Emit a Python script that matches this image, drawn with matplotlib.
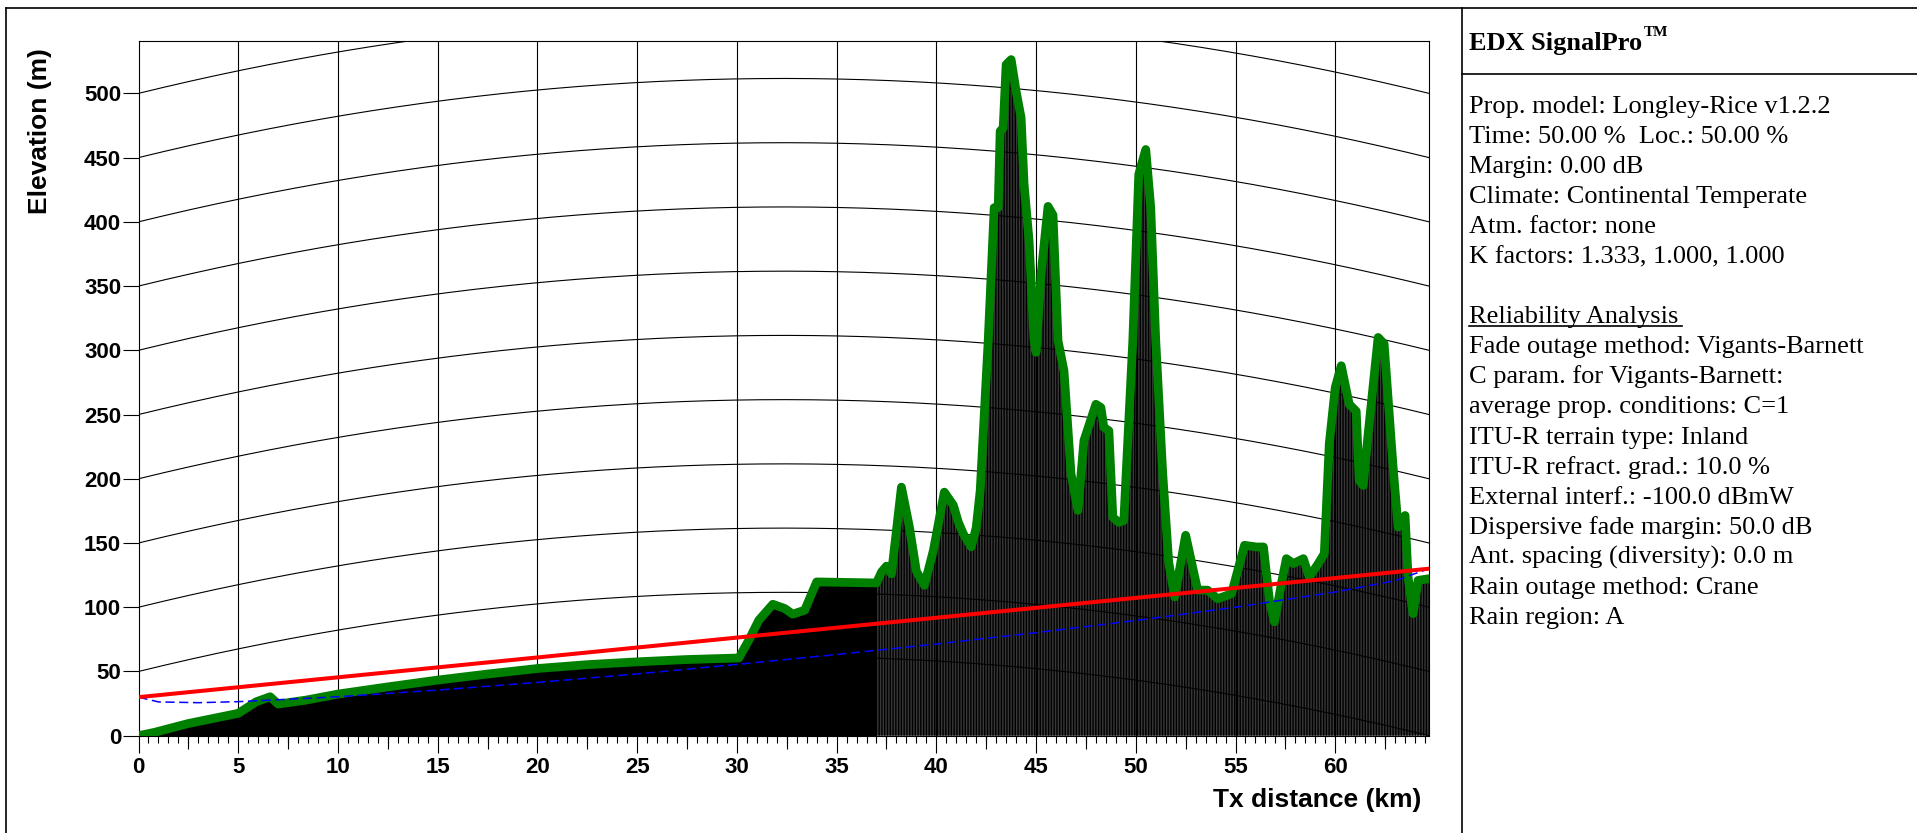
import numpy as np
import matplotlib.pyplot as plt
from matplotlib.lines import Line2D

# terrain profile (km, m)
dist_km = [0, 0.8, 2.5, 5.0, 5.9, 6.6, 7.0, 8.4, 10, 12.5,
           15, 17.5, 20, 22.5, 25, 27.5, 30.1, 30.6, 31.1, 31.8,
           32.4, 32.8, 33.4, 34.0, 37.0, 37.25, 37.5, 37.75, 38.25, 38.65,
           39.0, 39.4, 39.85, 40.4, 40.85, 41.1, 41.35, 41.75, 42.0, 42.2,
           42.6, 42.9, 43.1, 43.2, 43.35, 43.5, 43.75, 44.0, 44.25, 44.4,
           44.65, 44.9, 45.0, 45.25, 45.6, 45.85, 46.1, 46.4, 46.75, 47.1,
           47.4, 48.0, 48.25, 48.4, 48.65, 48.85, 49.15, 49.4, 49.85, 50.15,
           50.5, 50.75, 51.0, 51.35, 51.65, 51.95, 52.5, 53.1, 53.6, 54.1,
           54.8, 55.45, 56.05, 56.4, 56.7, 56.95, 57.3, 57.55, 57.9, 58.4,
           58.7, 59.15, 59.45, 59.7, 60.0, 60.3, 60.7, 61.05, 61.2, 61.4,
           61.65, 62.15, 62.45, 62.9, 63.15, 63.5, 63.65, 63.9, 64.15, 64.7]
elev_m = [0, 2.6, 9.5, 17.4, 26.4, 30.3, 24.6, 27.7, 32.4, 38,
          43.3, 48, 52.3, 55.3, 57.5, 59.3, 60.5, 74.4, 89.9, 102.3,
          99, 94.6, 97.7, 119.7, 118.9, 127.4, 132, 126, 193.5, 162.4,
          128, 117.1, 144, 189.6, 179.5, 166.3, 157.2, 147, 162, 190.9,
          307.5, 411, 411, 470.6, 473, 522.4, 526.3, 501.6, 481, 429.2,
          385, 307.5, 298.4, 359, 412, 405.3, 307.5, 284, 204, 175.4,
          229.7, 258, 255.5, 240, 237.4, 170, 166, 167.5, 307.5, 437,
          456.3, 411, 307.5, 204, 135, 108, 156, 113.3, 113.3, 106.6,
          110.5, 148.2, 146.9, 146.9, 105.4, 88.6, 118.4, 137.8, 134, 137.8,
          123.5, 134, 141.7, 227.2, 271, 288, 258, 252.6, 198.7, 194.8,
          234.9, 310, 305, 209, 162.4, 171.4, 123.5, 95, 120.9, 122.2]

# line of sight and lower fresnel boundary
los_km = [0, 64.7]
los_m = [30, 130]
fresnel_km = [0, 1, 3, 5, 10, 15, 20, 25, 30, 35, 40, 45, 50, 55, 60, 63, 64.7]
fresnel_m = [30, 26.3, 25.7, 26.5, 30.3, 35.5, 41.5, 48.1, 55.5, 63.2, 71.4,
             80.2, 89.7, 100, 111.9, 120.7, 130]

grid_levels = list(range(0, 551, 50))
k_factor = 4 / 3
earth_r = 6371.0
path_len = 64.7

info_lines = ['Prop. model: Longley-Rice v1.2.2',
              'Time: 50.00 %  Loc.: 50.00 %',
              'Margin: 0.00 dB',
              'Climate: Continental Temperate',
              'Atm. factor: none',
              'K factors: 1.333, 1.000, 1.000',
              '',
              'Reliability Analysis',
              'Fade outage method: Vigants-Barnett',
              'C param. for Vigants-Barnett:',
              'average prop. conditions: C=1',
              'ITU-R terrain type: Inland',
              'ITU-R refract. grad.: 10.0 %',
              'External interf.: -100.0 dBmW',
              'Dispersive fade margin: 50.0 dB',
              'Ant. spacing (diversity): 0.0 m',
              'Rain outage method: Crane',
              'Rain region: A']

W, H = 1917, 833
def fx(px): return px / W
def fy(py): return 1 - py / H

plt.rcParams['hatch.linewidth'] = 1.0
fig = plt.figure(figsize=(W / 100, H / 100), dpi=100)
ax = fig.add_axes([fx(138.5), fy(735.7), (1429 - 138.5) / W, (735.7 - 40.7) / H])

dist = np.array(dist_km)
elev = np.array(elev_m)

# terrain body
ax.fill_between(dist, 0, elev, facecolor='#383838', edgecolor='black', hatch='|' * 6, linewidth=0, zorder=2)
left = dist <= 37.0
ax.fill_between(dist[left], 0, elev[left], color='black', linewidth=0, zorder=2.1)

# curved earth grid and vertical grid
xc = np.linspace(0, path_len, 300)
bulge = xc * (path_len - xc) / (2 * k_factor * earth_r) * 1000
for lvl in grid_levels:
    ax.plot(xc, lvl + bulge, color='black', lw=0.8, zorder=3)
for xv in range(5, 65, 5):
    ax.axvline(xv, color='black', lw=0.8, zorder=3)

ax.plot(dist, elev, color='#008000', lw=6.3, solid_joinstyle='round', solid_capstyle='round', zorder=5)
ax.plot(fresnel_km, fresnel_m, color='blue', lw=1.1, ls=(0, (6, 3)), zorder=6)
ax.plot(los_km, los_m, color='red', lw=2.9, zorder=7)

ax.set_xlim(0, path_len)
ax.set_ylim(0, 541)
for s in ax.spines.values():
    s.set_linewidth(0.8)
ax.set_xticks(range(0, 65, 5))
ax.set_xticks(np.arange(0, 64.7, 0.5), minor=True)
ax.set_yticks(range(0, 501, 50))
ax.tick_params(axis='x', which='major', direction='out', length=12.5, width=0.8, pad=3)
ax.tick_params(axis='x', which='minor', direction='out', length=5, width=0.8)
ax.tick_params(axis='y', which='major', direction='out', length=11.5, width=0.8, pad=1)
for lab in ax.get_xticklabels() + ax.get_yticklabels():
    lab.set_fontfamily('Liberation Sans')
    lab.set_fontweight('bold')
    lab.set_fontsize(16)

# medium ticks at 2.5 km
ax2 = ax.twiny()
ax2.set_xlim(ax.get_xlim())
ax2.set_xticks(np.arange(2.5, 64.7, 5))
ax2.xaxis.set_ticks_position('bottom')
ax2.tick_params(axis='x', direction='out', length=9, width=0.8, labelbottom=False, labeltop=False)
for s in ax2.spines.values():
    s.set_visible(False)

fig.text(fx(1421), fy(800), 'Tx distance (km)', ha='right', va='center',
         fontfamily='Liberation Sans', fontweight='bold', fontsize=19)
fig.text(fx(39.5), fy(131.5), 'Elevation (m)', ha='center', va='center', rotation=90,
         fontfamily='Liberation Sans', fontweight='bold', fontsize=19)

# frame and side panel
frame_kw = dict(color='black', lw=1.2, transform=fig.transFigure)
fig.add_artist(Line2D([fx(6), fx(6)], [fy(8), fy(840)], **frame_kw))
fig.add_artist(Line2D([fx(6), fx(1925)], [fy(8), fy(8)], **frame_kw))
fig.add_artist(Line2D([fx(1462), fx(1462)], [fy(8), fy(840)], **frame_kw))
fig.add_artist(Line2D([fx(1462), fx(1925)], [fy(74), fy(74)], **frame_kw))

fig.text(fx(1469), fy(50), 'EDX SignalPro', ha='left', va='baseline',
         fontfamily='Liberation Serif', fontweight='bold', fontsize=19)
fig.text(fx(1644), fy(36), 'TM', ha='left', va='baseline',
         fontfamily='Liberation Serif', fontweight='bold', fontsize=11)
for i, line in enumerate(info_lines):
    if line:
        fig.text(fx(1469), fy(112.5 + 30.1 * i), line, ha='left', va='baseline',
                 fontfamily='Liberation Serif', fontsize=19)
rel_y = 112.5 + 30.1 * 7 + 2.5
fig.add_artist(Line2D([fx(1469), fx(1682)], [fy(rel_y), fy(rel_y)], color='black', lw=1.2,
                      transform=fig.transFigure))

fig.savefig('out.png', dpi=100)
